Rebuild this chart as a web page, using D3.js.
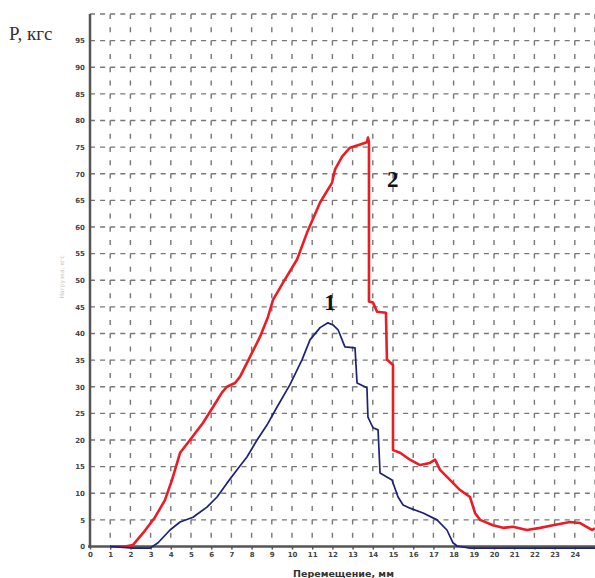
<!DOCTYPE html>
<html>
<head>
<meta charset="utf-8">
<script src="https://cdn.jsdelivr.net/npm/d3@7"></script>
<style>
  body { margin: 0; background: #fff; }
  svg { display: block; }
</style>
</head>
<body>
<div id="container"></div>
<script>
/* DATA */
// curve 1 (blue) : [displacement, load]
const curve1X = [0.99, 2.13, 2.97, 3.37, 3.96, 4.46, 5.10, 5.79, 6.29, 6.78, 7.28, 7.77, 8.27, 8.76, 9.26, 9.90, 10.50, 10.89, 11.39, 11.78, 12.03, 12.28, 12.62, 13.12, 13.22, 13.71, 13.76, 14.01, 14.26, 14.36, 14.95, 15.25, 15.50, 15.84, 16.49, 17.18, 17.67, 17.97, 18.17, 18.81, 25];
const curve1Y = [0, -0.3, -0.3, 0.7, 3.1, 4.6, 5.5, 7.4, 9.3, 11.9, 14.4, 16.8, 20.0, 22.8, 26.2, 30.4, 35.1, 38.8, 41.1, 42.0, 41.6, 40.7, 37.5, 37.3, 30.7, 29.8, 24.3, 22.3, 21.9, 13.8, 12.5, 9.3, 7.8, 7.2, 6.3, 5.0, 3.1, 0.7, 0.1, -0.3, -0.3];

// curve 2 (red)
const curve2X = [0.99, 1.73, 2.13, 2.62, 3.22, 3.71, 4.06, 4.46, 4.95, 5.59, 6.09, 6.53, 6.78, 7.18, 7.43, 7.92, 8.42, 8.81, 9.06, 9.55, 10.25, 10.74, 11.39, 11.98, 12.13, 12.48, 12.87, 13.37, 13.71, 13.76, 13.81, 13.81, 14.01, 14.21, 14.65, 14.70, 15.00, 15.00, 15.35, 15.84, 16.34, 16.83, 17.08, 17.33, 17.82, 18.32, 18.81, 19.06, 19.31, 19.95, 20.45, 20.94, 21.63, 22.28, 22.92, 23.76, 24.26, 24.85, 25];
const curve2Y = [0, 0, 0.3, 2.5, 5.5, 8.7, 12.5, 17.6, 20.0, 23.2, 26.2, 28.9, 30.0, 30.7, 31.9, 35.6, 39.4, 43.1, 46.3, 49.5, 53.9, 58.9, 64.6, 68.3, 70.8, 73.2, 74.9, 75.5, 75.9, 76.8, 75.9, 46.0, 45.8, 44.1, 43.9, 35.1, 34.1, 18.1, 17.6, 16.3, 15.3, 15.7, 16.3, 14.4, 12.5, 10.6, 9.3, 6.3, 5.0, 4.0, 3.5, 3.7, 3.1, 3.5, 4.0, 4.6, 4.4, 3.1, 3.4];

const xTicks = d3.range(0, 25, 1);
const yTicks = d3.range(0, 100, 5);
const curveLabels = [{name: "1", x: 11.6, y: 44.4}, {name: "2", x: 14.7, y: 67.5}];

/* CONSTANTS */
const W = 595, H = 578;
const margin = {top: 14, right: 0, bottom: 31.5, left: 90};

const svg = d3.select("#container")
  .append("svg")
  .attr("width", W)
  .attr("height", H);

// SCALES
const xScale = d3.scaleLinear().domain([0, 25]).range([margin.left, W - margin.right]);
const yScale = d3.scaleLinear().domain([0, 100]).range([H - margin.bottom, margin.top]);

// GRID
svg.append("g")
  .attr("class", "grid-v")
  .selectAll("line")
  .data(d3.range(1, 26))
  .join("line")
  .attr("x1", d => xScale(d)).attr("x2", d => xScale(d))
  .attr("y1", yScale(100)).attr("y2", yScale(0))
  .attr("stroke", "#777")
  .attr("stroke-width", 1.4)
  .attr("stroke-dasharray", "5,8.3");

svg.append("g")
  .attr("class", "grid-h")
  .selectAll("line")
  .data(d3.range(5, 101, 5))
  .join("line")
  .attr("x1", xScale(0)).attr("x2", xScale(25))
  .attr("y1", d => yScale(d)).attr("y2", d => yScale(d))
  .attr("stroke", "#777")
  .attr("stroke-width", 1.4)
  .attr("stroke-dasharray", "5,5.1");

// AXES
const yAxis = svg.append("g")
  .attr("transform", `translate(${margin.left},0)`)
  .call(d3.axisLeft(yScale).tickValues(yTicks).tickSize(0).tickPadding(5));

const xAxis = svg.append("g")
  .attr("transform", `translate(0,${yScale(0)})`)
  .call(d3.axisBottom(xScale).tickValues(xTicks).tickSize(3).tickPadding(3));

[xAxis, yAxis].forEach(a => {
  a.select(".domain").attr("stroke", "#555").attr("stroke-width", 2.5);
  a.selectAll(".tick line").attr("stroke", "#555").attr("stroke-width", 1.5);
  a.selectAll("text")
    .attr("fill", "#444")
    .style("font-family", "DejaVu Sans, sans-serif")
    .style("font-size", "7px")
    .style("font-weight", "bold");
});
yAxis.select(".domain").attr("d", `M0,${yScale(0) + 1}V${yScale(100)}`);
xAxis.select(".domain").attr("d", `M${xScale(0) - 2},0H${W}`);

// CURVES
const line = d3.line()
  .x(d => xScale(d[0]))
  .y(d => yScale(d[1]));

svg.append("path")
  .datum(d3.zip(curve2X, curve2Y))
  .attr("fill", "none")
  .attr("stroke", "#ec1c24")
  .attr("stroke-width", 2.6)
  .attr("stroke-linejoin", "round")
  .attr("d", line);

svg.append("path")
  .datum(d3.zip(curve1X, curve1Y))
  .attr("fill", "none")
  .attr("stroke", "#1e2178")
  .attr("stroke-width", 1.7)
  .attr("stroke-linejoin", "round")
  .attr("d", line);

// LABELS
svg.selectAll(".curve-label")
  .data(curveLabels)
  .join("text")
  .attr("class", "curve-label")
  .attr("x", d => xScale(d.x))
  .attr("y", d => yScale(d.y))
  .attr("fill", "#111")
  .style("font-family", "Liberation Serif, serif")
  .style("font-size", "23px")
  .style("font-weight", "bold")
  .text(d => d.name);

svg.append("text")
  .attr("x", 9)
  .attr("y", 40)
  .attr("fill", "#333")
  .style("font-family", "Liberation Serif, serif")
  .style("font-size", "19px")
  .text("P, кгс");

svg.append("text")
  .attr("transform", `translate(64,277) rotate(-90)`)
  .attr("text-anchor", "middle")
  .attr("fill", "#c8c8c8")
  .style("font-family", "DejaVu Sans, sans-serif")
  .style("font-size", "6px")
  .text("Нагрузка, кгс");

svg.append("text")
  .attr("x", 293)
  .attr("y", 577)
  .attr("fill", "#333")
  .style("font-family", "DejaVu Sans, sans-serif")
  .style("font-size", "9.5px")
  .style("font-weight", "bold")
  .text("Перемещение, мм");
</script>
</body>
</html>
